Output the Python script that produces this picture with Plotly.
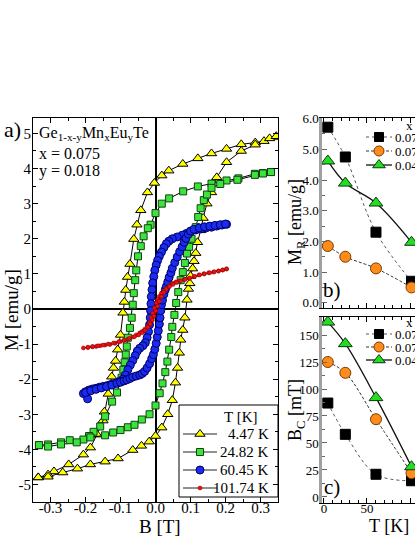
import plotly.graph_objects as go

# ---------------- data: panel a) M vs B hysteresis loops ----------------
temp_labels = ["4.47 K", "24.82 K", "60.45 K", "101.74 K"]

# 4.47 K (yellow triangles)
B_447_dn = [0.345, 0.310, 0.285, 0.245, 0.203, 0.160, 0.121, 0.078, 0.038, 0.018, -0.003, -0.023,
            -0.042, -0.053, -0.062, -0.073, -0.080, -0.085, -0.089, -0.093, -0.100, -0.108, -0.114,
            -0.120, -0.125, -0.135, -0.146, -0.150, -0.167, -0.186, -0.206, -0.248, -0.290, -0.307, -0.335]
M_447_dn = [4.90, 4.78, 4.74, 4.69, 4.56, 4.43, 4.29, 4.13, 3.94, 3.80, 3.59, 3.32,
            2.81, 2.40, 1.99, 1.28, 0.91, 0.54, 0.20, -0.11, -0.74, -1.16, -1.48,
            -1.68, -1.93, -2.42, -2.93, -3.18, -3.58, -3.95, -4.15, -4.43, -4.63, -4.72, -4.80]
B_447_up = [-0.335, -0.307, -0.265, -0.223, -0.186, -0.144, -0.107, -0.065, -0.040, -0.018, 0.000,
            0.018, 0.035, 0.048, 0.057, 0.063, 0.068, 0.072, 0.078, 0.084, 0.090, 0.094, 0.098, 0.100,
            0.106, 0.110, 0.115, 0.120, 0.129, 0.136, 0.147, 0.160, 0.175, 0.203, 0.245, 0.285, 0.326, 0.345]
M_447_up = [-4.80, -4.78, -4.66, -4.55, -4.43, -4.35, -4.26, -4.02, -3.90, -3.78, -3.62,
            -3.38, -3.00, -2.60, -2.10, -1.68, -1.25, -0.88, -0.60, -0.25, 0.26, 0.57, 0.73, 0.94,
            1.15, 1.36, 1.59, 1.90, 2.24, 2.59, 3.00, 3.32, 3.75, 4.18, 4.50, 4.68, 4.86, 4.92]

# 24.82 K (green squares)
B_2482_dn = [0.330, 0.307, 0.284, 0.237, 0.203, 0.160, 0.121, 0.079, 0.039, 0.018, 0.000, -0.014,
             -0.022, -0.034, -0.042, -0.050, -0.055, -0.058, -0.062, -0.065, -0.068, -0.073, -0.079,
             -0.082, -0.085, -0.088, -0.092, -0.097, -0.110, -0.124, -0.144, -0.158, -0.177, -0.190,
             -0.206, -0.245, -0.270, -0.307, -0.333]
M_2482_dn = [3.90, 3.87, 3.85, 3.72, 3.66, 3.57, 3.49, 3.35, 3.15, 3.00, 2.73, 2.40,
             2.30, 2.07, 1.79, 1.50, 1.10, 0.82, 0.45, 0.12, -0.25, -0.54, -0.82,
             -1.07, -1.30, -1.52, -1.73, -1.96, -2.38, -2.64, -3.06, -3.35, -3.50, -3.62,
             -3.72, -3.74, -3.80, -3.86, -3.88]
B_2482_up = [-0.333, -0.307, -0.270, -0.225, -0.186, -0.144, -0.121, -0.100, -0.079, -0.060, -0.039,
             -0.017, 0.000, 0.012, 0.020, 0.028, 0.034, 0.039, 0.045, 0.048, 0.054, 0.059, 0.065, 0.072,
             0.078, 0.084, 0.090, 0.096, 0.103, 0.115, 0.122, 0.129, 0.138, 0.147, 0.160, 0.185, 0.234,
             0.284, 0.307, 0.330]
M_2482_up = [-3.88, -3.92, -3.86, -3.80, -3.66, -3.60, -3.52, -3.45, -3.37, -3.30, -3.15,
             -3.00, -2.75, -2.40, -2.12, -1.80, -1.50, -1.16, -0.80, -0.51, -0.17, 0.17, 0.48, 0.82,
             1.05, 1.31, 1.58, 1.77, 2.00, 2.33, 2.62, 2.87, 3.10, 3.26, 3.45, 3.56, 3.68,
             3.82, 3.86, 3.90]

# 60.45 K (blue circles)
B_6045_dn = [0.203, 0.190, 0.175, 0.160, 0.145, 0.130, 0.115, 0.100, 0.088, 0.076, 0.062, 0.048,
             0.038, 0.031, 0.024, 0.017, 0.011, 0.006, 0.002, -0.002, -0.005, -0.008, -0.010, -0.012,
             -0.013, -0.014, -0.015, -0.017, -0.020, -0.024, -0.029, -0.036, -0.045, -0.052, -0.058,
             -0.065, -0.072, -0.079, -0.086, -0.093, -0.102, -0.110, -0.120, -0.130, -0.140, -0.150,
             -0.160, -0.170, -0.180, -0.190, -0.200, -0.206, -0.194]
M_6045_dn = [2.41, 2.39, 2.36, 2.33, 2.31, 2.28, 2.25, 2.20, 2.15, 2.10, 2.05, 2.00,
             1.93, 1.86, 1.75, 1.62, 1.50, 1.38, 1.25, 1.10, 0.92, 0.74, 0.55, 0.35,
             0.15, -0.05, -0.25, -0.45, -0.65, -0.82, -0.96, -1.05, -1.12, -1.20, -1.33,
             -1.47, -1.60, -1.73, -1.88, -2.00, -2.06, -2.10, -2.13, -2.16, -2.19, -2.21,
             -2.23, -2.26, -2.28, -2.31, -2.36, -2.41, -2.56]
B_6045_up = [-0.200, -0.185, -0.170, -0.155, -0.140, -0.125, -0.110, -0.100, -0.090, -0.082, -0.073,
             -0.065, -0.055, -0.045, -0.038, -0.031, -0.024, -0.017, -0.011, -0.006, -0.002, 0.002,
             0.005, 0.008, 0.011, 0.013, 0.015, 0.017, 0.020, 0.024, 0.028, 0.031, 0.035, 0.039, 0.044,
             0.048, 0.055, 0.062, 0.069, 0.076, 0.082, 0.087, 0.094, 0.100, 0.110, 0.125, 0.140, 0.155,
             0.170, 0.185, 0.200]
M_6045_up = [-2.38, -2.33, -2.29, -2.25, -2.21, -2.17, -2.12, -2.09, -2.05, -2.02, -1.98,
             -1.94, -1.91, -1.88, -1.84, -1.78, -1.68, -1.56, -1.42, -1.30, -1.15, -0.98,
             -0.80, -0.62, -0.43, -0.25, -0.05, 0.12, 0.25, 0.42, 0.55, 0.64, 0.77, 0.90, 1.03,
             1.16, 1.32, 1.48, 1.63, 1.77, 1.90, 2.01, 2.13, 2.22, 2.27, 2.31, 2.34, 2.36,
             2.38, 2.40, 2.42]

# 101.74 K (red dots)
B_10174_dn = [0.203, 0.192, 0.180, 0.166, 0.152, 0.138, 0.124, 0.110, 0.096, 0.082, 0.068, 0.058,
              0.048, 0.040, 0.031, 0.024, 0.017, 0.011, 0.006, 0.002, -0.003, -0.008, -0.012, -0.017,
              -0.024, -0.031, -0.038, -0.045, -0.055, -0.065, -0.079, -0.090, -0.100, -0.115, -0.130,
              -0.144, -0.158, -0.170, -0.180, -0.193, -0.206]
M_10174_dn = [1.14, 1.11, 1.08, 1.05, 1.03, 1.00, 0.97, 0.92, 0.87, 0.84, 0.80, 0.77,
              0.73, 0.67, 0.59, 0.52, 0.45, 0.36, 0.27, 0.17, 0.03, -0.12, -0.25, -0.38,
              -0.50, -0.58, -0.64, -0.68, -0.74, -0.80, -0.86, -0.90, -0.93, -0.98, -1.01,
              -1.03, -1.05, -1.07, -1.08, -1.10, -1.11]
B_10174_up = [-0.193, -0.180, -0.165, -0.150, -0.135, -0.120, -0.105, -0.090, -0.075, -0.060,
              -0.048, -0.038, -0.030, -0.022, -0.015, -0.009, -0.004, 0.001, 0.006, 0.011, 0.017, 0.024,
              0.031, 0.040, 0.050, 0.060, 0.072, 0.085, 0.098, 0.112, 0.126, 0.140, 0.155, 0.168, 0.180,
              0.192, 0.203]
M_10174_up = [-1.09, -1.07, -1.05, -1.03, -1.00, -0.97, -0.93, -0.89, -0.84, -0.79,
              -0.74, -0.68, -0.61, -0.52, -0.43, -0.32, -0.20, -0.06, 0.08, 0.22, 0.35, 0.47,
              0.56, 0.64, 0.70, 0.75, 0.80, 0.84, 0.88, 0.93, 0.97, 1.00, 1.03, 1.06, 1.08,
              1.11, 1.14]

# ---------------- data: panels b) and c) ----------------
T_K = [4.47, 24.82, 60.45, 101.74]
x_labels = ["0.075", "0.075", "0.045"]
MR_s1 = [5.72, 4.75, 2.30, 0.70]   # black squares
MR_s2 = [1.85, 1.50, 1.12, 0.50]   # orange circles
MR_s3 = [4.62, 3.90, 3.25, 1.97]   # green triangles
BC_s1 = [87, 58, 21, 15]
BC_s2 = [125, 115, 72, 22]
BC_s3 = [162, 142, 92, 28]

main_xticks = [-0.3, -0.2, -0.1, 0.0, 0.1, 0.2, 0.3]
main_xtext = ["-0.3", "-0.2", "-0.1", "0.0", "0.1", "0.2", "0.3"]
main_yticks = [-5, -4, -3, -2, -1, 0, 1, 2, 3, 4, 5]
main_ytext = ["-5", "-4", "-3", "-2", "-1", "0", "1", "2", "3", "4", "5"]
b_yticks = [0, 1, 2, 3, 4, 5, 6]
b_ytext = ["0.0", "1.0", "2.0", "3.0", "4.0", "5.0", "6.0"]
c_yticks = [0, 25, 50, 75, 100, 125, 150]
T_ticks = [0, 50, 100]

# ---------------- layout helpers (pixel -> paper) ----------------
W, H = 415, 537
def X(p):
    return p / W
def Y(p):
    return 1 - p / H

FONT = "Liberation Serif, Times New Roman, DejaVu Serif, serif"
YEL, GRN, BLU, RED = "#ffff00", "#3be33b", "#1a2cf0", "#ee1111"
ORG = "#ff8c1a"

styles = [
    dict(symbol="triangle-up", size=9, color=YEL, line=dict(color="black", width=1)),
    dict(symbol="square", size=7, color=GRN, line=dict(color="#114411", width=1)),
    dict(symbol="circle", size=8, color=BLU, line=dict(color="#000066", width=1)),
    dict(symbol="circle", size=4, color=RED, line=dict(color="#770000", width=0.5)),
]
line_cols = ["black", "black", "#000044", "#880000"]

fig = go.Figure()

loops = [
    (B_447_dn + B_447_up, M_447_dn + M_447_up),
    (B_2482_dn + B_2482_up, M_2482_dn + M_2482_up),
    (B_6045_dn + B_6045_up, M_6045_dn + M_6045_up),
    (B_10174_dn + B_10174_up, M_10174_dn + M_10174_up),
]
for (bx, my), st, lc, name in zip(loops, styles, line_cols, temp_labels):
    fig.add_trace(go.Scatter(x=bx, y=my, mode="lines+markers", name=name,
                             line=dict(color=lc, width=1), marker=st,
                             xaxis="x", yaxis="y", showlegend=False))

rstyles = [
    dict(symbol="square", size=10, color="black", line=dict(color="black", width=1)),
    dict(symbol="circle", size=11, color=ORG, line=dict(color="#7a3b00", width=1)),
    dict(symbol="triangle-up", size=12, color="#22dd22", line=dict(color="#0a3a0a", width=1)),
]
rlines = [dict(color="#555555", width=1, dash="dot", shape="spline"),
          dict(color="#333333", width=1, dash="3px,2px", shape="spline"),
          dict(color="#111111", width=1.3, shape="spline")]

for vals, st, ln in zip([MR_s1, MR_s2, MR_s3], rstyles, rlines):
    fig.add_trace(go.Scatter(x=T_K, y=vals, mode="lines+markers", line=ln, marker=st,
                             xaxis="x2", yaxis="y2", showlegend=False))
for vals, st, ln in zip([BC_s1, BC_s2, BC_s3], rstyles, rlines):
    fig.add_trace(go.Scatter(x=T_K, y=vals, mode="lines+markers", line=ln, marker=st,
                             xaxis="x3", yaxis="y3", showlegend=False))

# ---- legend keys on a pixel overlay axis ----
main_rows = [434, 452, 470, 488]
for r, st, lc in zip(main_rows, styles, line_cols):
    fig.add_trace(go.Scatter(x=[183, 217], y=[r, r], mode="lines", line=dict(color="#222222", width=1),
                             xaxis="x4", yaxis="y4", showlegend=False, cliponaxis=False))
    fig.add_trace(go.Scatter(x=[200], y=[r], mode="markers", marker=st,
                             xaxis="x4", yaxis="y4", showlegend=False, cliponaxis=False))

right_rows_b = [137, 151, 165]
right_rows_c = [334, 347, 360]
for rows in (right_rows_b, right_rows_c):
    for r, st, ln in zip(rows, rstyles, rlines):
        ln2 = dict(ln)
        ln2.pop("shape")
        fig.add_trace(go.Scatter(x=[366, 392], y=[r, r], mode="lines", line=ln2,
                                 xaxis="x4", yaxis="y4", showlegend=False, cliponaxis=False))
        st2 = dict(st)
        st2["size"] = st["size"] - 1
        fig.add_trace(go.Scatter(x=[379], y=[r], mode="markers", marker=st2,
                                 xaxis="x4", yaxis="y4", showlegend=False, cliponaxis=False))

tickfont_main = dict(family=FONT, size=15, color="black")
tickfont_r = dict(family=FONT, size=13, color="black")

fig.update_layout(
    width=W, height=H,
    margin=dict(l=0, r=0, t=0, b=0, autoexpand=False),
    paper_bgcolor="white", plot_bgcolor="rgba(0,0,0,0)",
    font=dict(family=FONT, color="black"),
    showlegend=False,
    xaxis=dict(domain=[X(33), X(278)], range=[-0.35, 0.35], anchor="y",
               showline=True, linecolor="black", linewidth=1, mirror="ticks",
               ticks="inside", ticklen=5, tickcolor="black", ticklabelstandoff=-8,
               tickvals=main_xticks, ticktext=main_xtext, tickfont=tickfont_main,
               minor=dict(dtick=0.05, ticks="inside", ticklen=3, tickcolor="black"),
               showgrid=False, zeroline=True, zerolinecolor="black", zerolinewidth=1.5),
    yaxis=dict(domain=[Y(502), Y(118)], range=[-5.5, 5.44], anchor="x",
               showline=True, linecolor="black", linewidth=1, mirror="ticks",
               ticks="inside", ticklen=5, tickcolor="black", ticklabelstandoff=-2,
               tickvals=main_yticks, ticktext=main_ytext, tickfont=tickfont_main,
               minor=dict(dtick=0.5, ticks="inside", ticklen=3, tickcolor="black"),
               showgrid=False, zeroline=True, zerolinecolor="black", zerolinewidth=1.5),
    xaxis2=dict(domain=[X(322), 1.0], range=[-2.3, 105.8], anchor="y2",
                showline=True, linecolor="black", linewidth=1, mirror="ticks",
                ticks="inside", ticklen=5, tickcolor="black", tickvals=T_ticks,
                showticklabels=False,
                minor=dict(dtick=10, ticks="inside", ticklen=3, tickcolor="black"),
                showgrid=False, zeroline=False),
    yaxis2=dict(domain=[Y(308), Y(118)], range=[-0.17, 6.02], anchor="x2",
                showline=True, linecolor="#a0a0a0", linewidth=2.5, mirror=False,
                ticks="inside", ticklen=5, tickcolor="#666666", ticklabelstandoff=-2,
                tickvals=b_yticks, ticktext=b_ytext, tickfont=tickfont_r,
                minor=dict(dtick=0.5, ticks="inside", ticklen=3, tickcolor="#666666"),
                showgrid=False, zeroline=False),
    xaxis3=dict(domain=[X(322), 1.0], range=[-2.3, 105.8], anchor="y3",
                showline=True, linecolor="black", linewidth=1, mirror="ticks",
                ticks="inside", ticklen=5, tickcolor="black", tickvals=T_ticks,
                tickfont=tickfont_r, ticklabelstandoff=-7,
                minor=dict(dtick=10, ticks="inside", ticklen=3, tickcolor="black"),
                showgrid=False, zeroline=False),
    yaxis3=dict(domain=[Y(503), Y(317)], range=[-5.6, 166.7], anchor="x3",
                showline=True, linecolor="#a0a0a0", linewidth=2.5, mirror=False,
                ticks="inside", ticklen=5, tickcolor="#666666", ticklabelstandoff=-2,
                tickvals=c_yticks, tickfont=tickfont_r,
                minor=dict(dtick=12.5, ticks="inside", ticklen=3, tickcolor="#666666"),
                showgrid=False, zeroline=False),
    xaxis4=dict(domain=[0, 1], range=[0, W], anchor="y4", visible=False),
    yaxis4=dict(domain=[0, 1], range=[H, 0], anchor="x4", visible=False),
)

# legend box (panel a)
fig.add_shape(type="rect", xref="paper", yref="paper", x0=X(179), x1=X(278), y0=Y(497), y1=Y(405),
              line=dict(color="black", width=1), fillcolor="white", layer="below")

def ann(text, x, y, size, xanchor="center", angle=0):
    fig.add_annotation(text=text, xref="paper", yref="paper", x=X(x), y=Y(y),
                       xanchor=xanchor, yanchor="middle", showarrow=False, textangle=angle,
                       font=dict(family=FONT, size=size, color="black"))

ann("a)", 2, 130, 22, "left")
ann("Ge<sub>1-x-y</sub>Mn<sub>x</sub>Eu<sub>y</sub>Te", 37, 134, 16, "left")
ann("x = 0.075", 37, 153, 16, "left")
ann("y = 0.018", 37, 171, 16, "left")
ann("M [emu/g]", 12, 310, 19, angle=-90)
ann("B [T]", 160, 526, 19)
ann("T [K]", 240, 417, 15)
for r, t in zip(main_rows, temp_labels):
    ann(t, 271, r, 15, "right")

ann("M<sub>R</sub> [emu/g]", 296, 222, 18, angle=-90)
ann("B<sub>C</sub> [mT]", 296, 410, 18, angle=-90)
ann("T [K]", 389, 526, 18)
ann("b)", 332, 290, 21)
ann("c)", 332, 487, 21)
ann("x", 409, 125, 13)
ann("x", 409, 322, 13)
for rows in (right_rows_b, right_rows_c):
    for r, t in zip(rows, x_labels):
        ann(t, 393, r, 13, "left")

fig.write_html("out.html", config={"displayModeBar": False},
               post_script="document.body.style.margin='0';document.body.style.overflow='hidden';")
